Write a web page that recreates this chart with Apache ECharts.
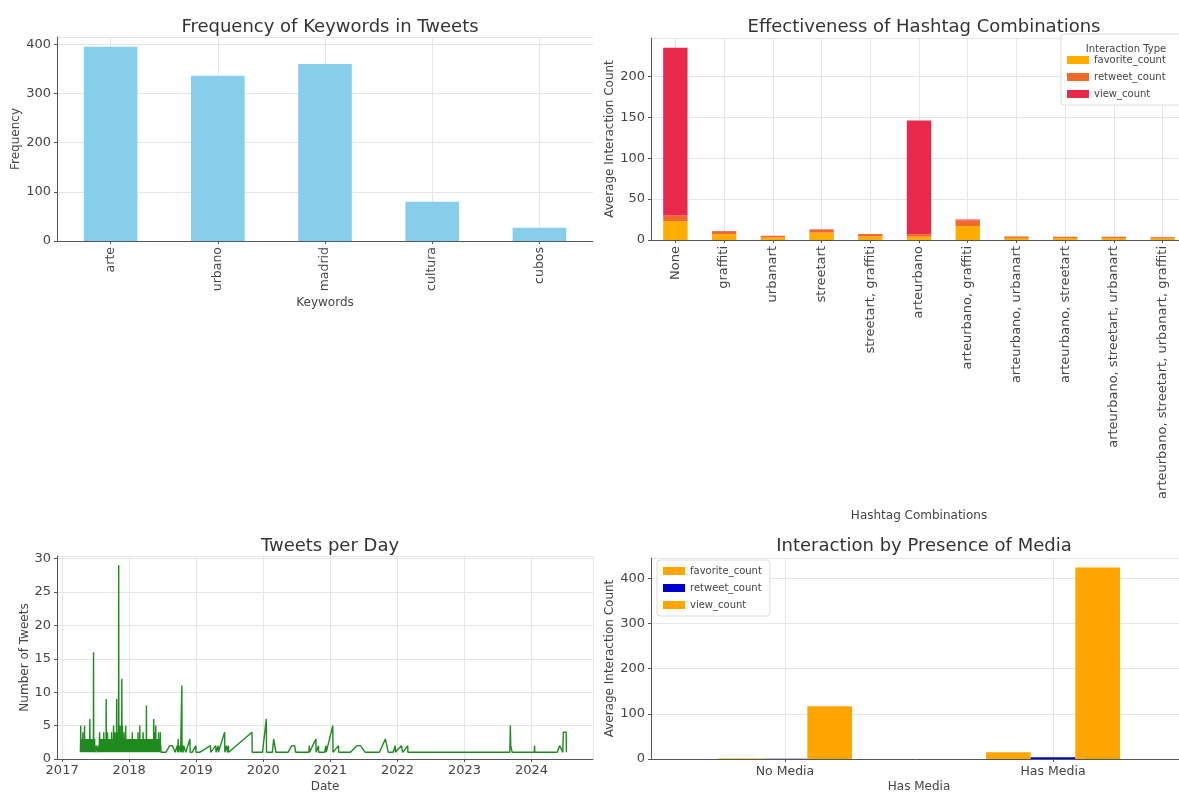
<!DOCTYPE html>
<html>
<head>
<meta charset="utf-8">
<title>Tweet analysis dashboard</title>
<script src="https://cdn.jsdelivr.net/npm/echarts@6/dist/echarts.min.js"></script>
<style>
  html, body { margin: 0; padding: 0; background: #fff; }
  #chart { width: 1179px; height: 794px; }
</style>
</head>
<body>
<div id="chart"></div>
<script>
// ---- Keyword frequency ----
const keywords = ['arte', 'urbano', 'madrid', 'cultura', 'cubos'];
const keywordFreq = [395, 336, 360, 80, 27];

// ---- Hashtag combinations (stacked averages) ----
const hashtagCombos = [
  'None', 'graffiti', 'urbanart', 'streetart', 'streetart, graffiti', 'arteurbano',
  'arteurbano, graffiti', 'arteurbano, urbanart', 'arteurbano, streetart',
  'arteurbano, streetart, urbanart', 'arteurbano, streetart, urbanart, graffiti'
];
const comboFavorite = [23, 7, 3, 9, 4.3, 4, 17, 2.5, 2.2, 2.2, 2];
const comboRetweet  = [7, 3.5, 2.2, 3.5, 3, 3, 7, 1.8, 1.8, 1.8, 1.5];
const comboView     = [205, 0.5, 0, 0.5, 0, 139, 1, 0, 0, 0, 0];

// ---- Media presence ----
const mediaGroups   = ['No Media', 'Has Media'];
const mediaFavorite = [1.2, 15];
const mediaRetweet  = [0.3, 4];
const mediaView     = [117, 424];

// ---- Tweets per day, busy period: one entry per calendar day (0 = no tweets) ----
const apr2017 = [0,0,0,0,0,0,0,0,0,1, 2,5,1,3,1,2,2,1,3,1, 2,1,2,4,1,3,1,2,1,2];
const may2017 = [1,2,5,1,3,1,2,2,1,3, 1,2,1,1,3,2,1,2,3,1, 1,2,1,3,1,2,1,2,3,1, 2];
const jun2017 = [6,1,2,3,1,2,1,2,1,3, 1,2,1,3,2,1,2,1,2,1, 16,1,2,1,2,1,3,1,2,1];
const jul2017 = [0,1,0,0,1,0,0,2,0,0, 1,0,0,1,0,0,0,1,2,1, 2,1,3,4,1,2,1,3,1,2, 1];
const aug2017 = [2,1,3,1,2,1,3,1,2,1, 2,1,2,3,1,4,1,2,1,2, 1,3,1,2,3,1,2,1,9,1, 2];
const sep2017 = [3,1,2,1,4,2,1,3,1,2, 1,3,1,2,1,3,2,1,2,1, 3,1,2,1,3,1,4,1,2,1];
const oct2017 = [2,1,3,1,2,1,3,5,1,2, 1,2,1,3,1,4,1,2,3,1, 2,1,2,3,9,1,2,4,1,2, 3];
const nov2017 = [1,2,3,1,29,2,3,4,1,2, 3,1,5,2,1,3,2,1,3,1, 2,12,2,3,5,1,2,1,3,2];
const dec2017 = [1,2,3,4,1,2,1,2,3,1, 2,1,5,1,2,1,2,3,1,2, 1,3,2,1,2,1,2,3,1,2, 1];
const jan2018 = [2,1,2,3,1,2,1,2,3,1, 2,1,2,3,1,2,1,4,1,2, 3,1,2,1,3,1,2,1,3,2, 1];
const feb2018 = [2,1,3,1,2,3,1,2,1,3, 1,2,1,3,2,1,2,4,1,2, 1,3,1,2,1,3,2,5];
const mar2018 = [1,2,1,3,2,1,3,1,2,1, 2,3,1,2,1,3,1,4,2,1, 2,1,3,1,2,3,1,2,1,3, 1];
const apr2018 = [2,1,3,1,8,1,2,3,1,2, 1,3,2,1,2,1,3,1,2,3, 1,2,3,1,2,1,3,1,2,1];
const may2018 = [2,1,3,1,2,1,3,1,2,3, 1,2,1,2,6,1,3,4,1,2, 3,1,2,1,3,5,1,2,3,1, 2];
const jun2018 = [1,2,3,1,2,1,3,1,2,4, 1,2,3,1,2,1,3,1,2,4, 1,2,1,1,0,1,0,0,0,0];

// ---- Tweets per day, quieter period: only days with at least one tweet ----
const laterTweetDays = [
  ['2018-07-20',1],['2018-08-10',2],['2018-08-25',2],['2018-09-08',1],['2018-09-20',2],
  ['2018-09-22',1],['2018-09-25',3],['2018-09-26',1],['2018-10-05',2],['2018-10-08',1],['2018-10-15',11],
  ['2018-10-16',1],['2018-10-20',2],['2018-10-22',1],['2018-10-25',2],['2018-11-05',1],['2018-11-28',3],
  ['2018-11-29',1],['2018-12-10',1],['2018-12-30',2],['2018-12-31',1],['2019-01-20',1],['2019-03-20',2],
  ['2019-03-21',1],['2019-04-18',2],['2019-04-19',1],['2019-05-01',2],['2019-05-02',1],['2019-06-05',4],
  ['2019-06-06',1],['2019-06-15',2],['2019-06-20',1],['2019-06-26',2],['2019-06-27',1],['2019-11-01',4],
  ['2019-11-02',1],['2019-12-28',1],['2020-01-18',6],['2020-01-19',1],['2020-02-20',1],['2020-02-27',3],
  ['2020-03-10',1],['2020-05-15',1],['2020-06-04',2],['2020-06-20',2],['2020-06-26',1],['2020-09-06',1],
  ['2020-09-08',2],['2020-09-09',1],['2020-10-14',3],['2020-10-15',1],['2020-10-28',2],['2020-10-29',1],
  ['2020-11-30',1],['2020-12-08',2],['2020-12-09',1],['2021-01-14',5],['2021-01-15',1],['2021-02-14',2],
  ['2021-02-15',1],['2021-04-20',1],['2021-05-25',2],['2021-06-14',2],['2021-07-10',1],['2021-09-25',1],
  ['2021-10-27',3],['2021-11-12',1],['2021-12-08',1],['2021-12-20',2],['2021-12-21',1],['2022-01-22',2],
  ['2022-01-30',1],['2022-02-26',2],['2022-02-27',1],['2022-03-02',1],['2023-09-05',1],['2023-09-08',5],
  ['2023-09-10',2],['2023-09-18',1],['2024-01-16',1],['2024-01-18',2],['2024-01-19',1],['2024-05-20',1],
  ['2024-06-02',2],['2024-06-20',1],['2024-06-22',4],['2024-07-08',4],['2024-07-09',1]
];

const busyMonths = [
  ['2017-04', apr2017], ['2017-05', may2017], ['2017-06', jun2017], ['2017-07', jul2017],
  ['2017-08', aug2017], ['2017-09', sep2017], ['2017-10', oct2017], ['2017-11', nov2017],
  ['2017-12', dec2017], ['2018-01', jan2018], ['2018-02', feb2018], ['2018-03', mar2018],
  ['2018-04', apr2018], ['2018-05', may2018], ['2018-06', jun2018]
];

// Expand the per-day month arrays into [date, count] points, skipping days without tweets
const tweetsPerDay = [];
busyMonths.forEach(([month, counts]) => {
  counts.forEach((c, i) => {
    if (c > 0) tweetsPerDay.push([month + '-' + String(i + 1).padStart(2, '0'), c]);
  });
});
laterTweetDays.forEach(p => tweetsPerDay.push(p));

const FONT = 'DejaVu Sans';
const TEXT = '#444';
const AXIS = '#555';
const GRIDLINE = '#e6e6e6';

function valueAxis(gridIndex, max, interval, name, nameGap) {
  return {
    type: 'value', gridIndex, min: 0, max, interval,
    name, nameLocation: 'middle', nameGap,
    nameTextStyle: { fontFamily: FONT, fontSize: 12, color: TEXT },
    axisLine: { show: true, lineStyle: { color: AXIS, width: 1 } },
    axisTick: { show: true, length: 3, lineStyle: { color: AXIS } },
    axisLabel: { fontFamily: FONT, fontSize: 13, color: TEXT, margin: 6, showMaxLabel: false },
    splitLine: { show: true, lineStyle: { color: GRIDLINE, width: 1 } }
  };
}

function categoryAxis(gridIndex, data, name, nameGap, rotate, fontSize) {
  return {
    type: 'category', gridIndex, data,
    name, nameLocation: 'middle', nameGap,
    nameTextStyle: { fontFamily: FONT, fontSize: 12, color: TEXT },
    axisLine: { show: true, lineStyle: { color: AXIS, width: 1 } },
    axisTick: { show: true, alignWithLabel: true, length: 3, lineStyle: { color: AXIS } },
    axisLabel: { fontFamily: FONT, fontSize, color: TEXT, rotate, margin: 6, interval: 0 },
    splitLine: { show: true, alignWithLabel: true, lineStyle: { color: GRIDLINE, width: 1 } }
  };
}

const titleStyle = { fontFamily: FONT, fontSize: 18, fontWeight: 'normal', color: '#333' };

const chart = echarts.init(document.getElementById('chart'), null, { renderer: 'canvas' });

chart.setOption({
  backgroundColor: '#fff',
  animation: false,
  title: [
    { text: 'Frequency of Keywords in Tweets', left: 325, top: 13, textAlign: 'center', textStyle: titleStyle },
    { text: 'Effectiveness of Hashtag Combinations', left: 919, top: 13, textAlign: 'center', textStyle: titleStyle },
    { text: 'Tweets per Day', left: 325, top: 532, textAlign: 'center', textStyle: titleStyle },
    { text: 'Interaction by Presence of Media', left: 919, top: 532, textAlign: 'center', textStyle: titleStyle },
    { text: 'Interaction Type', left: 1121, top: 39, textAlign: 'center',
      textStyle: { fontFamily: FONT, fontSize: 10, fontWeight: 'normal', color: TEXT } }
  ],
  legend: [
    {
      data: ['favorite_count', 'retweet_count', 'view_count'].map(n => ({ name: n + ' ' })),
      orient: 'vertical', left: 1061, top: 34,
      padding: [21, 20, 6, 6], itemGap: 7, itemWidth: 22, itemHeight: 8,
      icon: 'rect', backgroundColor: 'rgba(255,255,255,0.85)',
      borderColor: '#dcdcdc', borderWidth: 1, borderRadius: 3,
      textStyle: { fontFamily: FONT, fontSize: 10, color: TEXT }
    },
    {
      data: ['favorite_count', 'retweet_count', 'view_count'],
      orient: 'vertical', left: 657, top: 560,
      padding: [6, 8, 6, 6], itemGap: 7, itemWidth: 22, itemHeight: 8,
      icon: 'rect', backgroundColor: 'rgba(255,255,255,0.85)',
      borderColor: '#dcdcdc', borderWidth: 1, borderRadius: 3,
      textStyle: { fontFamily: FONT, fontSize: 10, color: TEXT }
    }
  ],
  grid: [
    { left: 57, top: 37, width: 536, height: 204, outerBoundsMode: 'none' },
    { left: 651, top: 38, width: 536, height: 202, outerBoundsMode: 'none' },
    { left: 57, top: 556, width: 536, height: 203, outerBoundsMode: 'none' },
    { left: 651, top: 558, width: 536, height: 201, outerBoundsMode: 'none' }
  ],
  xAxis: [
    categoryAxis(0, keywords, 'Keywords', 56, 90, 12.5),
    categoryAxis(1, hashtagCombos, 'Hashtag Combinations', 270, 90, 13),
    {
      type: 'time', gridIndex: 2, min: '2016-12-04', max: '2024-12-01',
      minInterval: 365 * 24 * 3600 * 1000, splitNumber: 8,
      name: 'Date', nameLocation: 'middle', nameGap: 22,
      nameTextStyle: { fontFamily: FONT, fontSize: 12, color: TEXT },
      axisLine: { show: true, lineStyle: { color: AXIS, width: 1 } },
      axisTick: { show: true, length: 3, lineStyle: { color: AXIS } },
      axisLabel: { fontFamily: FONT, fontSize: 13, color: TEXT, margin: 5, formatter: '{yyyy}',
                   showMinLabel: false, showMaxLabel: false },
      splitLine: { show: true, lineStyle: { color: GRIDLINE, width: 1 } }
    },
    categoryAxis(3, mediaGroups, 'Has Media', 22, 0, 12.5)
  ],
  yAxis: [
    valueAxis(0, 415, 100, 'Frequency', 34),
    valueAxis(1, 247, 50, 'Average Interaction Count', 33),
    valueAxis(2, 30.4, 5, 'Number of Tweets', 26),
    valueAxis(3, 445, 100, 'Average Interaction Count', 33)
  ],
  series: [
    {
      name: 'Frequency', type: 'bar', xAxisIndex: 0, yAxisIndex: 0,
      data: keywordFreq, barCategoryGap: '50%',
      itemStyle: { color: '#87CEEB' }
    },
    {
      name: 'favorite_count ', type: 'bar', stack: 'combo', xAxisIndex: 1, yAxisIndex: 1,
      data: comboFavorite, barCategoryGap: '50%', itemStyle: { color: '#FFAE00' }
    },
    {
      name: 'retweet_count ', type: 'bar', stack: 'combo', xAxisIndex: 1, yAxisIndex: 1,
      data: comboRetweet, barCategoryGap: '50%', itemStyle: { color: '#F26A2B' }
    },
    {
      name: 'view_count ', type: 'bar', stack: 'combo', xAxisIndex: 1, yAxisIndex: 1,
      data: comboView, barCategoryGap: '50%', itemStyle: { color: '#E8294C' }
    },
    {
      name: 'Tweets', type: 'line', xAxisIndex: 2, yAxisIndex: 2,
      data: tweetsPerDay, showSymbol: false,
      lineStyle: { color: '#1f8a1f', width: 1.4 }, itemStyle: { color: '#1f8a1f' }
    },
    {
      name: 'favorite_count', type: 'bar', xAxisIndex: 3, yAxisIndex: 3,
      data: mediaFavorite, barCategoryGap: '50%', barGap: '0%', itemStyle: { color: '#FFA500' }
    },
    {
      name: 'retweet_count', type: 'bar', xAxisIndex: 3, yAxisIndex: 3,
      data: mediaRetweet, barGap: '0%', itemStyle: { color: '#0000CD' }
    },
    {
      name: 'view_count', type: 'bar', xAxisIndex: 3, yAxisIndex: 3,
      data: mediaView, barGap: '0%', itemStyle: { color: '#FFA500' }
    }
  ]
});
</script>
</body>
</html>
